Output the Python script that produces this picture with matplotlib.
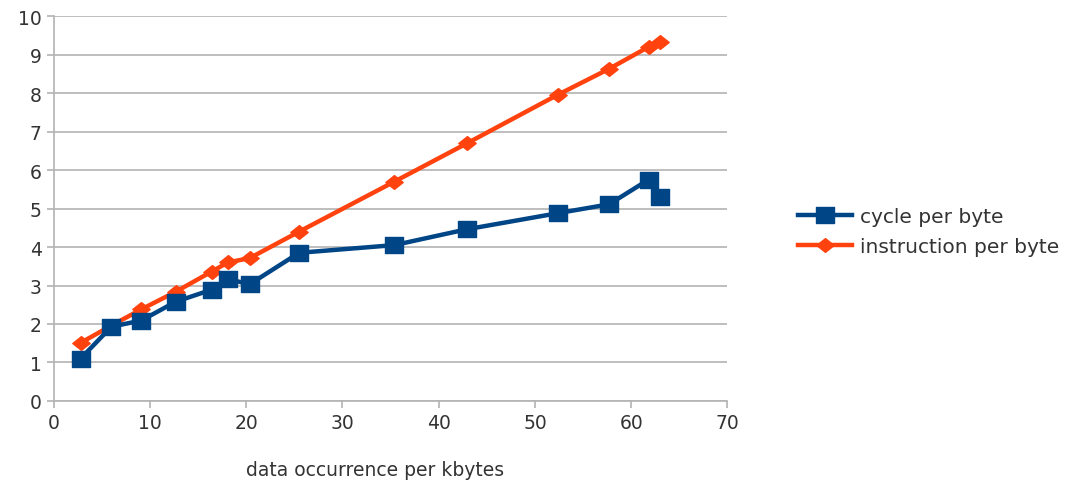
import matplotlib.pyplot as plt
from matplotlib.path import Path

plt.rcParams['font.family'] = ['DejaVu Sans']

occurrence = [2.8, 6.0, 9.1, 12.7, 16.4, 18.1, 20.35, 25.5, 35.4, 42.9, 52.4, 57.7, 61.8, 63.0]
cycles = [1.10, 1.93, 2.09, 2.58, 2.89, 3.17, 3.03, 3.85, 4.05, 4.46, 4.88, 5.11, 5.75, 5.30]
instructions = [1.51, 1.96, 2.38, 2.84, 3.36, 3.60, 3.71, 4.40, 5.70, 6.69, 7.96, 8.63, 9.20, 9.34]

blue = '#004586'
orange = '#ff420e'
grey = '#b3b3b3'
text_col = '#333333'

# slightly wide square and diamond markers
box = Path([(-0.6, -0.5), (0.6, -0.5), (0.6, 0.5), (-0.6, 0.5), (-0.6, -0.5)],
           [Path.MOVETO, Path.LINETO, Path.LINETO, Path.LINETO, Path.CLOSEPOLY])
diamond = Path([(0, -0.46), (0.58, 0), (0, 0.46), (-0.58, 0), (0, -0.46)],
               [Path.MOVETO, Path.LINETO, Path.LINETO, Path.LINETO, Path.CLOSEPOLY])

fig = plt.figure(figsize=(10.73, 4.89), dpi=100)
ax = fig.add_axes([0.050, 0.178, 0.628, 0.787])

ax.plot(occurrence, cycles, color=blue, lw=3.2, marker=box, ms=13,
        label='cycle per byte', zorder=3)
ax.plot(occurrence, instructions, color=orange, lw=3.2, marker=diamond, ms=12.5,
        label='instruction per byte', zorder=2)

ax.set_xlim(0, 70)
ax.set_ylim(0, 10)
ax.set_xticks(range(0, 71, 10))
ax.set_yticks(range(0, 11))
ax.yaxis.grid(True, color=grey, lw=1.2)
ax.set_axisbelow(True)
for side in ['top', 'right']:
    ax.spines[side].set_visible(False)
for side in ['left', 'bottom']:
    ax.spines[side].set_color(grey)
    ax.spines[side].set_linewidth(1.2)
ax.tick_params(colors=grey, labelcolor=text_col, labelsize=13.5, length=5, width=1.2)

fig.text(375 / 1073, 1 - 471 / 489, 'data occurrence per kbytes', ha='center', va='center',
         fontsize=13.5, color=text_col)

ax.legend(loc='center left', bbox_to_anchor=(1.077, 0.44), frameon=False, fontsize=14.5,
          handlelength=2.7, labelspacing=0.55, handletextpad=0.4, labelcolor=text_col)

plt.savefig('out.png')
